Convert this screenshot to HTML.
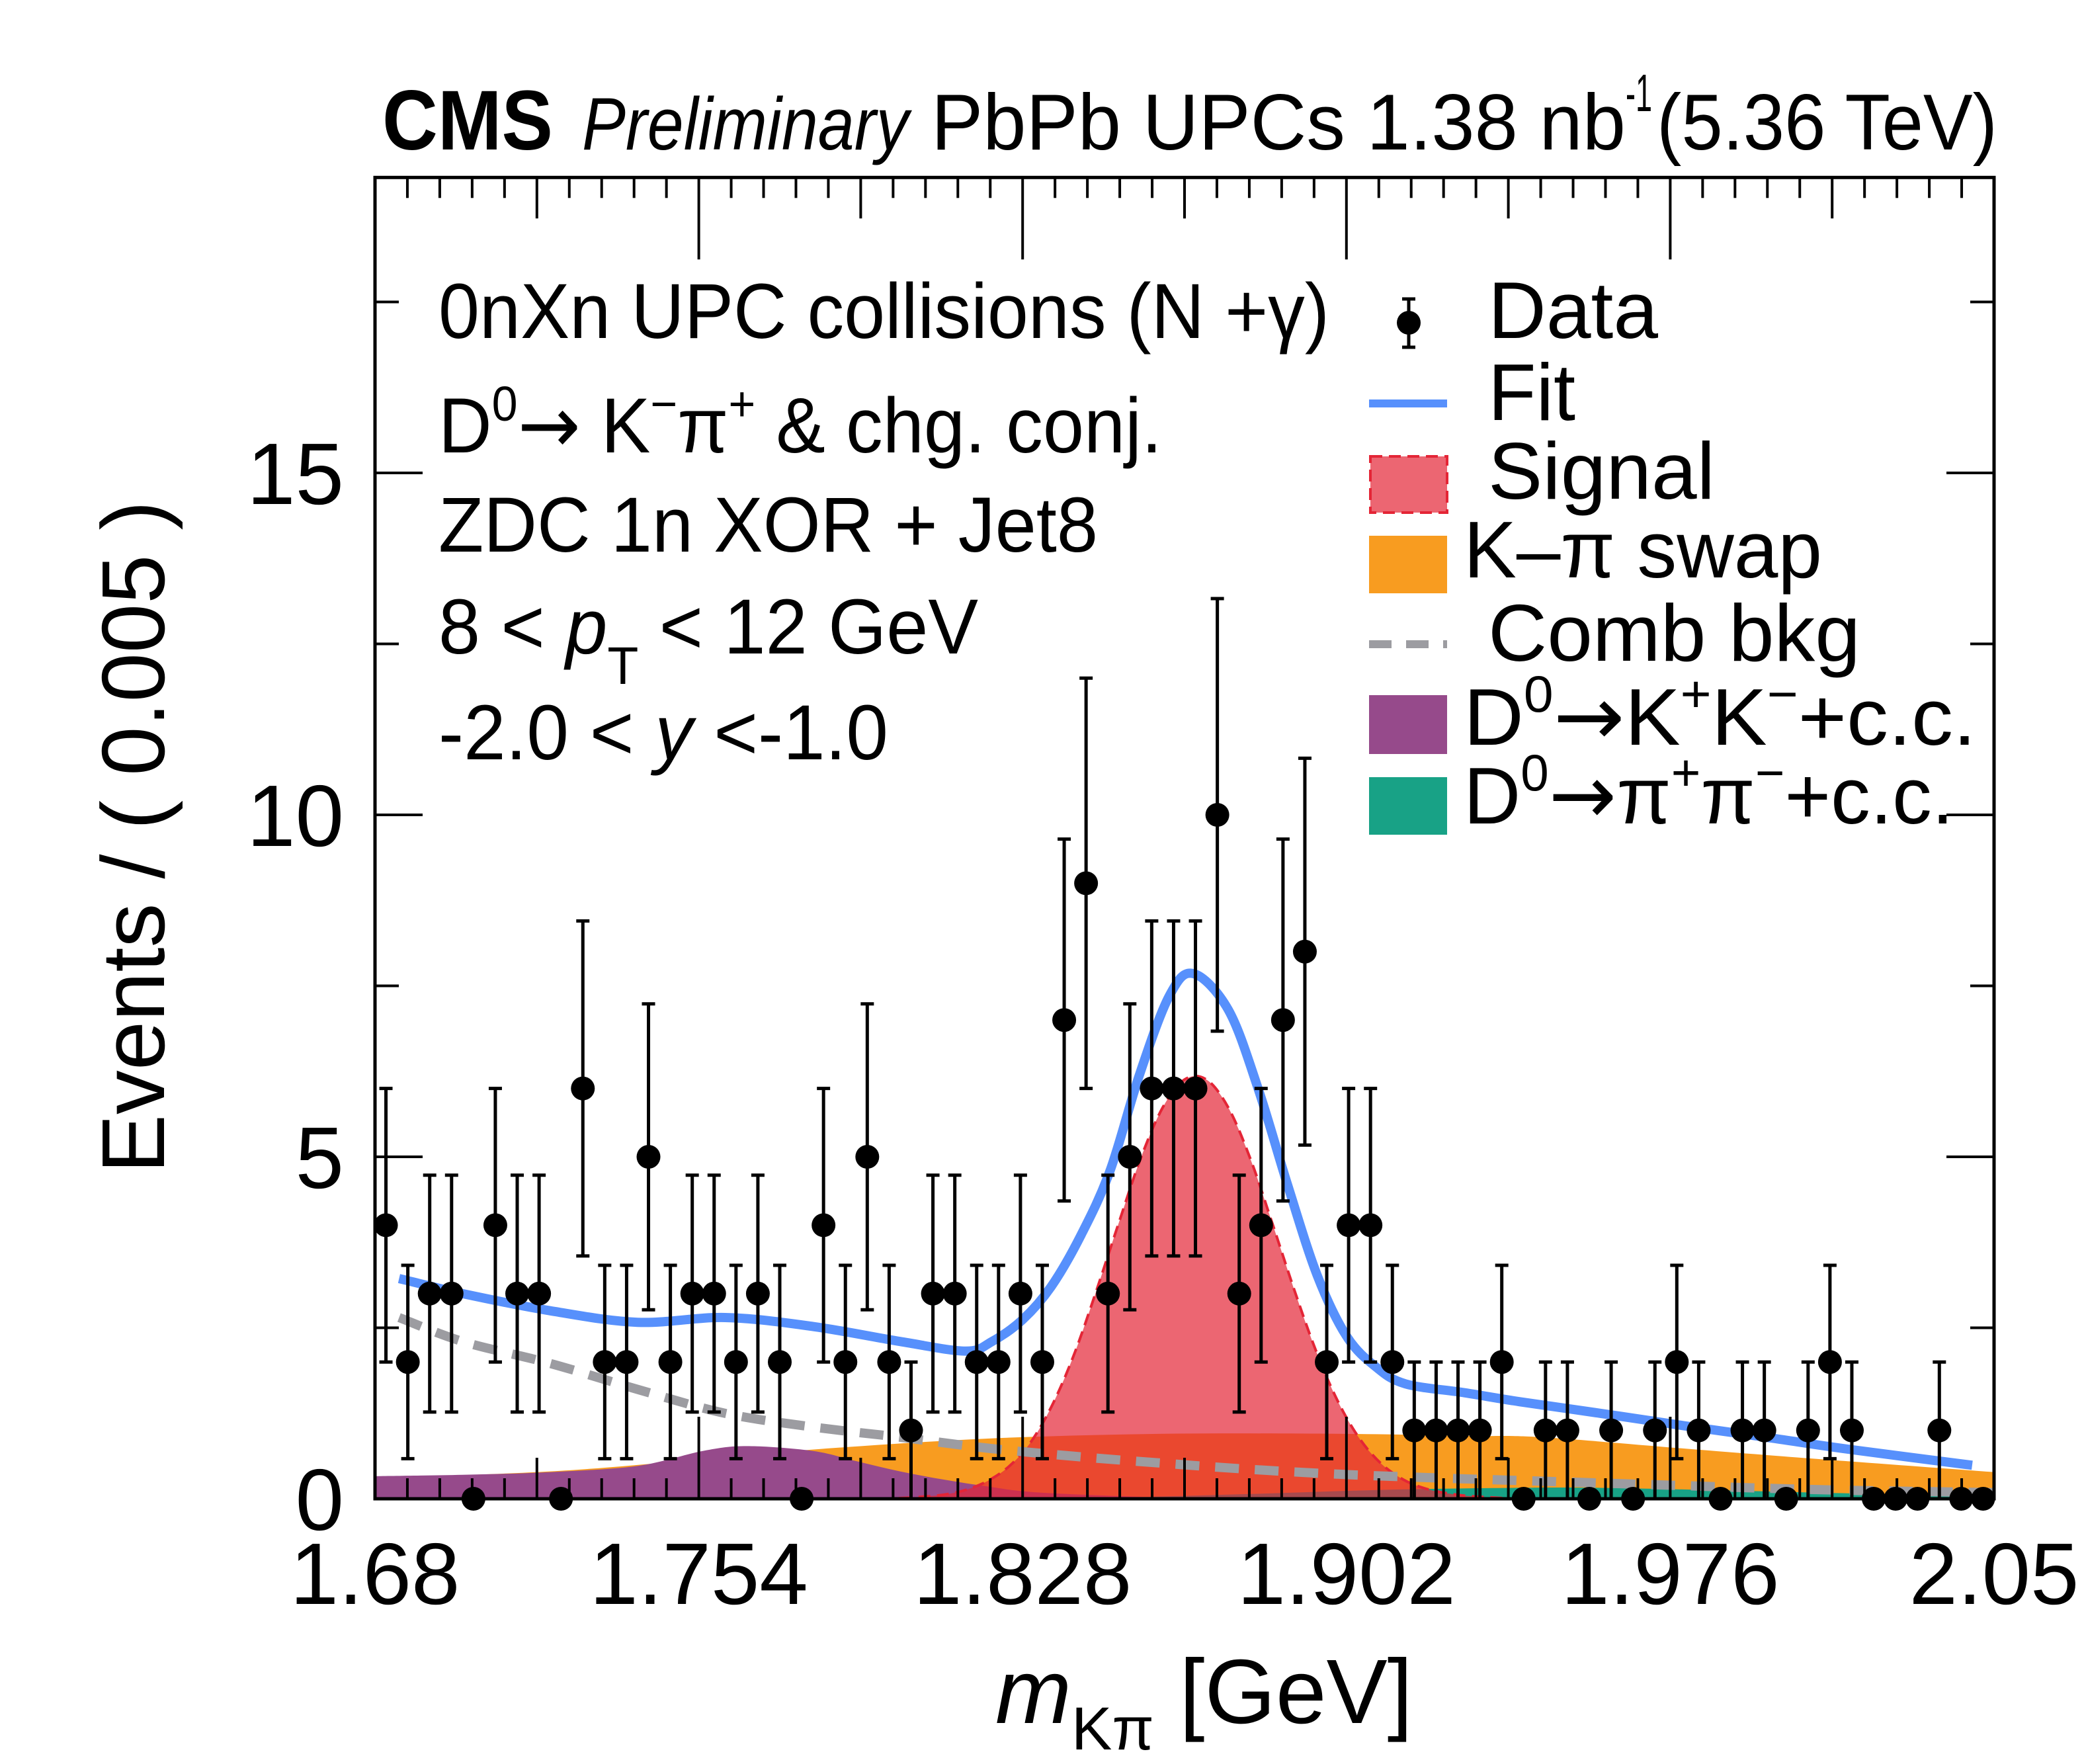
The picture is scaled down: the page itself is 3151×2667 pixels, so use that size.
<!DOCTYPE html>
<html><head><meta charset="utf-8"><style>
html,body{margin:0;padding:0;background:#fff;}
svg{display:block;font-family:"Liberation Sans",sans-serif;}
.arr{font-family:"DejaVu Sans",sans-serif;}
</style></head><body>
<svg id="chart" width="3151" height="2667" viewBox="0 0 3151 2667" xmlns="http://www.w3.org/2000/svg">
<rect x="0" y="0" width="3151" height="2667" fill="#fff"/>
<g id="fills"></g>
<g id="lines"></g>
<g id="points"></g>
<g id="axes"></g>

<!-- header -->
<text x="578" y="226" font-size="128" font-weight="bold" textLength="258" lengthAdjust="spacingAndGlyphs">CMS</text>
<text x="880" y="226" font-size="112" font-style="italic" textLength="494" lengthAdjust="spacingAndGlyphs">Preliminary</text>
<text x="1408" y="226" font-size="120" textLength="1050" lengthAdjust="spacingAndGlyphs">PbPb UPCs 1.38 nb</text>
<text x="2458" y="168" font-size="80" textLength="40" lengthAdjust="spacingAndGlyphs">-1</text>
<text x="2505" y="226" font-size="120" textLength="515" lengthAdjust="spacingAndGlyphs">(5.36 TeV)</text>

<!-- info text -->
<text x="663" y="511" font-size="118" textLength="1347" lengthAdjust="spacingAndGlyphs">0nXn UPC collisions (N +γ)</text>
<text x="663" y="684" font-size="118" textLength="1094" lengthAdjust="spacingAndGlyphs">D<tspan dy="-48" font-size="74">0</tspan><tspan dy="48" class="arr" font-size="120">→</tspan><tspan> K</tspan><tspan dy="-48" font-size="74">−</tspan><tspan dy="48">π</tspan><tspan dy="-48" font-size="74">+</tspan><tspan dy="48"> &amp; chg. conj.</tspan></text>
<text x="663" y="834" font-size="118" textLength="997" lengthAdjust="spacingAndGlyphs">ZDC 1n XOR + Jet8</text>
<text x="663" y="988" font-size="118" textLength="816" lengthAdjust="spacingAndGlyphs">8 &lt; <tspan font-style="italic">p</tspan><tspan dy="46" font-size="80">T</tspan><tspan dy="-46"> &lt; 12 GeV</tspan></text>
<text x="663" y="1148" font-size="118" textLength="680" lengthAdjust="spacingAndGlyphs">-2.0 &lt; <tspan font-style="italic">y</tspan> &lt;-1.0</text>

<!-- legend -->
<g>
<g>
<line x1="2130" y1="452" x2="2130" y2="525" stroke="#000" stroke-width="5"/>
<line x1="2120" y1="452" x2="2140" y2="452" stroke="#000" stroke-width="5"/>
<line x1="2120" y1="525" x2="2140" y2="525" stroke="#000" stroke-width="5"/>
<circle cx="2130" cy="488" r="18" fill="#000"/>
<text x="2250" y="511" font-size="122" textLength="257" lengthAdjust="spacingAndGlyphs">Data</text>
</g>
<g>
<line x1="2070" y1="610" x2="2188" y2="610" stroke="#5790fc" stroke-width="12"/>
<text x="2250" y="635" font-size="122" textLength="132" lengthAdjust="spacingAndGlyphs">Fit</text>
</g>
<g>
<rect x="2072" y="690" width="116" height="85" fill="rgba(228,37,54,0.7)" stroke="#e42536" stroke-width="4" stroke-dasharray="18,10"/>
<text x="2250" y="754" font-size="122" textLength="343" lengthAdjust="spacingAndGlyphs">Signal</text>
</g>
<g>
<rect x="2070" y="810" width="118" height="87" fill="#f89c20"/>
<text x="2213" y="873" font-size="122" textLength="542" lengthAdjust="spacingAndGlyphs">K–π swap</text>
</g>
<g>
<line x1="2070" y1="974" x2="2188" y2="974" stroke="#9c9ca1" stroke-width="12" stroke-dasharray="34,22"/>
<text x="2250" y="999" font-size="122" textLength="563" lengthAdjust="spacingAndGlyphs">Comb bkg</text>
</g>
<g>
<rect x="2070" y="1051" width="118" height="89" fill="#964a8b"/>
<text x="2213" y="1126" font-size="122" textLength="775" lengthAdjust="spacingAndGlyphs">D<tspan dy="-50" font-size="78">0</tspan><tspan dy="50" class="arr" font-size="125">→</tspan><tspan>K</tspan><tspan dy="-50" font-size="78">+</tspan><tspan dy="50">K</tspan><tspan dy="-50" font-size="78">−</tspan><tspan dy="50">+c.c.</tspan></text>
</g>
<g>
<rect x="2070" y="1175" width="118" height="87" fill="#18a286"/>
<text x="2213" y="1245" font-size="122" textLength="741" lengthAdjust="spacingAndGlyphs">D<tspan dy="-50" font-size="78">0</tspan><tspan dy="50" class="arr" font-size="125">→</tspan><tspan>π</tspan><tspan dy="-50" font-size="78">+</tspan><tspan dy="50">π</tspan><tspan dy="-50" font-size="78">−</tspan><tspan dy="50">+c.c.</tspan></text>
</g>
</g>

<!-- axis titles -->
<text x="1505" y="2605" font-size="138"><tspan font-style="italic">m</tspan><tspan dy="40" font-size="92">Kπ</tspan><tspan dy="-40"> [GeV]</tspan></text>
<text transform="translate(248,1774) rotate(-90)" x="0" y="0" font-size="135" textLength="1017" lengthAdjust="spacingAndGlyphs">Events / ( 0.005 )</text>
</svg>

<script>
// ---- data ----
const binLow = 1.68;
const binWidth = 0.005;
const counts = [4,2,3,3,0,4,3,3,0,6,2,2,5,2,3,3,2,3,2,0,4,2,5,2,1,3,3,2,2,3,2,7,9,3,5,6,6,6,10,3,4,7,8,2,4,4,2,1,1,1,1,2,0,1,1,0,1,0,1,2,1,0,1,1,0,1,2,1,0,0,0,1,0,0];

const fitX = [1.6855,1.70,1.72,1.74,1.76,1.78,1.80,1.815,1.821,1.828,1.8345,1.8413,1.848,1.8547,1.8615,1.867,1.875,1.8818,1.8885,1.8953,1.902,1.9087,1.9155,1.929,1.9415,1.96,1.979,2.00,2.0166,2.045];
const fitY = [3.22,3.0,2.75,2.58,2.65,2.52,2.3,2.16,2.3,2.62,3.1,3.85,4.8,6.2,7.35,7.68,7.15,6.0,4.6,3.27,2.38,1.93,1.68,1.55,1.42,1.25,1.07,0.88,0.725,0.49];

const sigX = [1.80,1.805,1.81,1.815,1.82,1.825,1.83,1.835,1.84,1.845,1.85,1.855,1.86,1.865,1.87,1.875,1.88,1.885,1.89,1.895,1.90,1.905,1.91,1.915,1.92,1.925,1.93,1.935,1.94];
const sigY = [0.01,0.03,0.06,0.13,0.26,0.48,0.84,1.40,2.15,3.07,4.04,4.98,5.72,6.13,6.13,5.72,4.98,4.04,3.07,2.17,1.43,0.88,0.51,0.28,0.15,0.08,0.04,0.02,0.0];

const swapX = [1.68,1.72,1.75,1.78,1.82,1.86,1.90,1.93,1.9467,1.98,2.01,2.05];
const swapY = [0.30,0.40,0.55,0.72,0.88,0.95,0.95,0.92,0.90,0.73,0.58,0.39];

const kkX = [1.68,1.70,1.72,1.74,1.755,1.765,1.78,1.79,1.80,1.81,1.82,1.83,1.85,1.87,1.90,2.05];
const kkY = [0.33,0.35,0.39,0.48,0.70,0.77,0.70,0.55,0.40,0.28,0.18,0.10,0.04,0.01,0.0,0.0];

const pipiX = [1.68,1.82,1.85,1.88,1.91,1.94,1.96,1.99,2.0165,2.05];
const pipiY = [0.0,0.0,0.02,0.07,0.13,0.16,0.16,0.12,0.08,0.05];

const combX = [1.6855,1.70,1.72,1.74,1.76,1.78,1.80,1.82,1.84,1.86,1.88,1.90,1.92,1.94,1.96,1.98,2.00,2.02,2.05];
const combY = [2.65,2.3,1.98,1.6,1.25,1.05,0.9,0.74,0.62,0.52,0.43,0.36,0.31,0.27,0.23,0.19,0.15,0.12,0.09];

const xTickLabels = ["1.68","1.754","1.828","1.902","1.976","2.05"];
const xTickValues = [1.68,1.754,1.828,1.902,1.976,2.05];
const yTickLabels = ["0","5","10","15"];
const yTickValues = [0,5,10,15];

// ---- axes ----
const X0 = 567, X1 = 3015, Y0 = 2266, YUNIT = 103.4, XMIN = 1.68, XMAX = 2.05, YMAX = 19.32;
function X(m){ return X0 + (m - XMIN) / (XMAX - XMIN) * (X1 - X0); }
function Y(v){ return Y0 - v * YUNIT; }
const NS = "http://www.w3.org/2000/svg";
function mk(tag, parent){ const e = document.createElementNS(NS, tag); parent.appendChild(e); return e; }

function smoothPath(xs, ys){
  const p = xs.map((x,i)=>[X(x),Y(ys[i])]);
  let d = "M" + p[0][0].toFixed(1) + "," + p[0][1].toFixed(1);
  for(let i=0;i<p.length-1;i++){
    const a=p[Math.max(0,i-1)], b=p[i], c=p[i+1], e=p[Math.min(p.length-1,i+2)];
    const c1=[b[0]+(c[0]-a[0])/6, b[1]+(c[1]-a[1])/6];
    const c2=[c[0]-(e[0]-b[0])/6, c[1]-(e[1]-b[1])/6];
    d += " C"+c1[0].toFixed(1)+","+c1[1].toFixed(1)+" "+c2[0].toFixed(1)+","+c2[1].toFixed(1)+" "+c[0].toFixed(1)+","+c[1].toFixed(1);
  }
  return d;
}
function areaPath(xs, ys){
  return smoothPath(xs, ys) + " L" + X(xs[xs.length-1]).toFixed(1) + "," + Y0 + " L" + X(xs[0]).toFixed(1) + "," + Y0 + " Z";
}

const fills = document.getElementById("fills");
const lines = document.getElementById("lines");
const pts = document.getElementById("points");
const axes = document.getElementById("axes");

const swapArea = mk("path", fills);
swapArea.setAttribute("d", areaPath(swapX, swapY));
swapArea.setAttribute("fill", "#f89c20");



const kkArea = mk("path", fills);
kkArea.setAttribute("d", areaPath(kkX, kkY));
kkArea.setAttribute("fill", "#964a8b");



const pipiArea = mk("path", fills);
pipiArea.setAttribute("d", areaPath(pipiX, pipiY));
pipiArea.setAttribute("fill", "#18a286");



const sigArea = mk("path", fills);
sigArea.setAttribute("d", areaPath(sigX, sigY));
sigArea.setAttribute("fill", "rgba(228,37,54,0.7)");
sigArea.setAttribute("stroke", "#e42536");
sigArea.setAttribute("stroke-width", "4");
sigArea.setAttribute("stroke-dasharray", "18,10");



const combLine = mk("path", lines);
combLine.setAttribute("d", smoothPath(combX, combY));
combLine.setAttribute("fill", "none");
combLine.setAttribute("stroke", "#9c9ca1");
combLine.setAttribute("stroke-width", "14");
combLine.setAttribute("stroke-dasharray", "36,24");



const fitLine = mk("path", lines);
fitLine.setAttribute("d", smoothPath(fitX, fitY));
fitLine.setAttribute("fill", "none");
fitLine.setAttribute("stroke", "#5790fc");
fitLine.setAttribute("stroke-width", "14");



counts.forEach((n, i) => {
  const cx = X(binLow + binWidth * (i + 0.5));
  const g = mk("g", pts);
  
  
  if (n > 0) {
    const e = Math.sqrt(n);
    const yt = Y(n + e), yb = Y(Math.max(0, n - e));
    const l = mk("line", g);
    l.setAttribute("x1", cx); l.setAttribute("x2", cx);
    l.setAttribute("y1", yt); l.setAttribute("y2", yb);
    l.setAttribute("stroke", "#000"); l.setAttribute("stroke-width", "5");
    [yt, yb].forEach(yy => {
      const c = mk("line", g);
      c.setAttribute("x1", cx - 10); c.setAttribute("x2", cx + 10);
      c.setAttribute("y1", yy); c.setAttribute("y2", yy);
      c.setAttribute("stroke", "#000"); c.setAttribute("stroke-width", "5");
    });
  }
  const c = mk("circle", g);
  c.setAttribute("cx", cx); c.setAttribute("cy", Y(n)); c.setAttribute("r", "18");
  c.setAttribute("fill", "#000");
});

// frame
const frame = mk("rect", axes);
frame.setAttribute("x", X0); frame.setAttribute("y", Y(YMAX));
frame.setAttribute("width", X1 - X0); frame.setAttribute("height", Y0 - Y(YMAX));
frame.setAttribute("fill", "none"); frame.setAttribute("stroke", "#000"); frame.setAttribute("stroke-width", "5");



const yTop = Y(YMAX);
function tickLine(x1,y1,x2,y2){
  const t = mk("line", axes);
  t.setAttribute("x1",x1); t.setAttribute("y1",y1); t.setAttribute("x2",x2); t.setAttribute("y2",y2);
  t.setAttribute("stroke","#000"); t.setAttribute("stroke-width","4");
  
  
}
for (let k = 0; k <= 50; k++) {
  const m = XMIN + k * 0.0074;
  const len = (k % 10 === 0) ? 124 : (k % 5 === 0 ? 62 : 31);
  const x = X(m);
  tickLine(x, Y0, x, Y0 - len);
  tickLine(x, yTop, x, yTop + len);
}
for (let v = 0; v <= YMAX; v += 2.5) {
  const len = (v % 5 === 0) ? 72 : 36;
  tickLine(X0, Y(v), X0 + len, Y(v));
  tickLine(X1, Y(v), X1 - len, Y(v));
}
xTickValues.forEach((v, i) => {
  const t = mk("text", axes);
  t.setAttribute("x", X(v)); t.setAttribute("y", 2425);
  t.setAttribute("font-size", "132"); t.setAttribute("text-anchor", "middle");
  t.textContent = xTickLabels[i];
  
  
});
yTickValues.forEach((v, i) => {
  const t = mk("text", axes);
  t.setAttribute("x", 520); t.setAttribute("y", Y(v) + 47);
  t.setAttribute("font-size", "132"); t.setAttribute("text-anchor", "end");
  t.textContent = yTickLabels[i];
  
  
});
</script>
</body></html>
